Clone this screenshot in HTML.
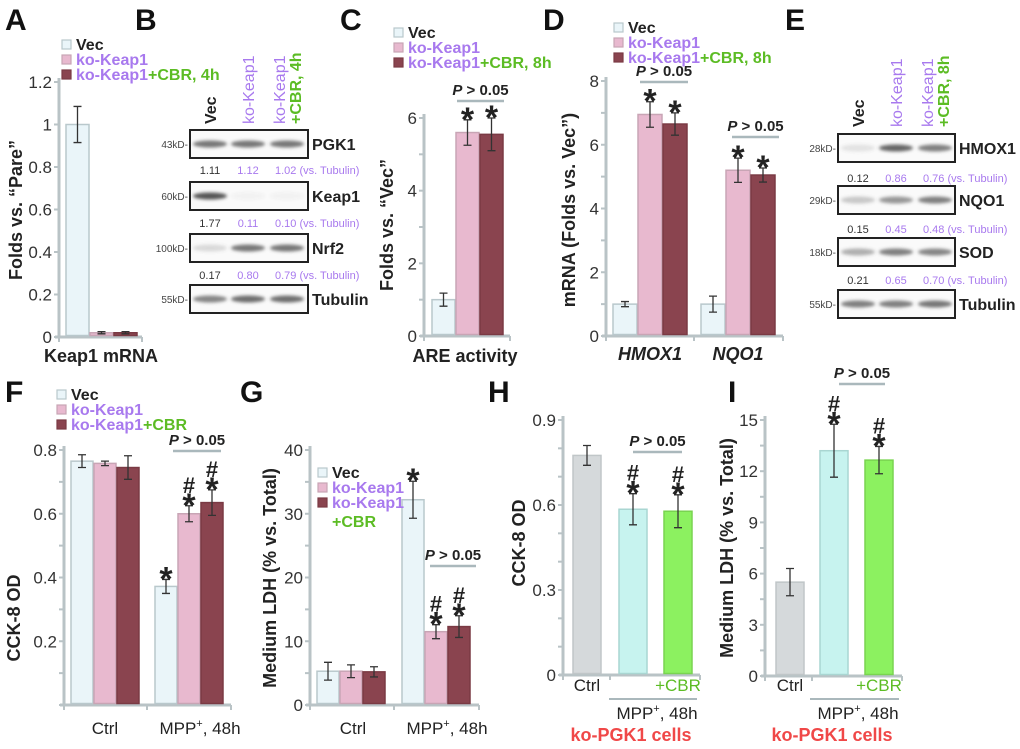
<!DOCTYPE html>
<html><head><meta charset="utf-8"><style>
html,body{margin:0;padding:0;background:#fff;}
svg{display:block;font-family:"Liberation Sans",Arial,sans-serif;}
</style></head><body>
<svg id="fig" width="1020" height="749" viewBox="0 0 1020 749" xmlns="http://www.w3.org/2000/svg">
<defs><filter id="blur" x="-20%" y="-100%" width="140%" height="300%"><feGaussianBlur stdDeviation="1.6"/></filter></defs>
</svg>
<script>
// ---------- DATA ----------
const aCats=['Keap1 mRNA'];
const aVec=[1.0];const aKo=[0.02];const aCbr=[0.02];
const aVecErr=[0.085];const aKoErr=[0.005];const aCbrErr=[0.005];
const aTicks=['0','0.2','0.4','0.6','0.8','1','1.2'];

const cCats=['ARE activity'];
const cVec=[1.0];const cKo=[5.6];const cCbr=[5.55];
const cVecErr=[0.18];const cKoErr=[0.35];const cCbrErr=[0.45];
const cTicks=['0','2','4','6'];
const cMarks=[[''],['*'],['*']];

const dCats=['HMOX1','NQO1'];
const dVec=[1.0,1.0];const dKo=[6.95,5.2];const dCbr=[6.65,5.05];
const dVecErr=[0.08,0.25];const dKoErr=[0.4,0.38];const dCbrErr=[0.35,0.22];
const dTicks=['0','2','4','6','8'];
const dMarks=[['',''],['*','*'],['*','*']];

const fCats=['Ctrl','MPP⁺, 48h'];
const fVec=[0.765,0.372];const fKo=[0.758,0.60];const fCbr=[0.745,0.635];
const fVecErr=[0.02,0.022];const fKoErr=[0.007,0.025];const fCbrErr=[0.037,0.04];
const fTicks=['0.2','0.4','0.6','0.8'];
const fMarks=[['','*'],['','#*'],['','#*']];

const gCats=['Ctrl','MPP⁺, 48h'];
const gVec=[5.3,32.2];const gKo=[5.3,11.5];const gCbr=[5.2,12.3];
const gVecErr=[1.4,2.9];const gKoErr=[1.0,1.1];const gCbrErr=[0.8,1.7];
const gTicks=['0','10','20','30','40'];
const gMarks=[['','*'],['','#*'],['','#*']];

const hCats=['Ctrl','MPP','CBR'];
const hVals=[0.775,0.585,0.578];
const hErrs=[0.035,0.055,0.058];
const hTicks=['0','0.3','0.6','0.9'];
const hMarks=['','#*','#*'];

const iCats=['Ctrl','MPP','CBR'];
const iVals=[5.5,13.2,12.65];
const iErrs=[0.8,1.55,0.8];
const iTicks=['0','3','6','9','12','15'];
const iMarks=['','#*','#*'];

// ---------- HELPERS ----------
const NS='http://www.w3.org/2000/svg';
const svg=document.getElementById('fig');
const PURPLE='#a879ee',GREEN='#5cbc24',AX='#b9c3c6',RED='#f04848';
const VEC=['#eaf5f9','#b9c8cc'],KO=['#e8b9cf','#c8a5b5'],CBR=['#8a444f','#7a3a44'];
function mk(tag,attrs,parent){const e=document.createElementNS(NS,tag);for(const k in attrs)e.setAttribute(k,attrs[k]);(parent||svg).appendChild(e);return e;}
function txt(x,y,s,size,opts){opts=opts||{};const t=mk('text',{x:x,y:y,'font-size':size,fill:opts.fill||'#222','font-weight':opts.bold?'bold':'normal','text-anchor':opts.anchor||'start'});if(opts.italic)t.setAttribute('font-style','italic');if(opts.rot)t.setAttribute('transform','rotate(-90 '+x+' '+y+')');t.textContent=s;return t;}
function scaleY(p,v){return p.y0-v/p.yMax*(p.y0-p.yTop);}

function axes(p){
  const v=mk('line',{x1:p.ax,y1:p.yTop-4,x2:p.ax,y2:p.y0,stroke:AX,'stroke-width':3});
  
  
  const h=mk('line',{x1:p.ax-4,y1:p.y0,x2:p.axEnd,y2:p.y0,stroke:AX,'stroke-width':3});
  
  
  for(let v2=0;v2<=p.yMax+1e-9;v2+=p.minor){const y=scaleY(p,v2);mk('line',{x1:p.ax-5,y1:y,x2:p.ax,y2:y,stroke:AX,'stroke-width':2});}
  (p.dividers||[]).forEach(x=>mk('line',{x1:x,y1:p.y0,x2:x,y2:p.y0+5,stroke:AX,'stroke-width':2}));
  p.ticks.forEach(s=>{const y=scaleY(p,parseFloat(s));
    const t=txt(p.ax-7,y+6,s,17,{anchor:'end',fill:'#333'});
    
    });
}
function bar(p,x,w,v,e,col,name,mark){
  const y=scaleY(p,v);
  const r=mk('rect',{x:x,y:y,width:w,height:p.y0-y-1.5,fill:col[0],stroke:col[1],'stroke-width':1.5});
  
  
  const yt=scaleY(p,v+e),yb=scaleY(p,v-e),cx=x+w/2;
  const eb=mk('path',{d:'M'+(cx-4)+' '+yt+'H'+(cx+4)+'M'+cx+' '+yt+'V'+yb+'M'+(cx-4)+' '+yb+'H'+(cx+4),stroke:'#333','stroke-width':1.3,fill:'none'});
  
  
  if(mark){let yy=yt+11;
    if(mark.indexOf('*')>=0){const s=txt(cx,yy,'*',34,{anchor:'middle',bold:true});yy-=24;}
    if(mark.indexOf('#')>=0){const s=txt(cx,yy,'#',22,{anchor:'middle',bold:true});}
  }
}
function grouped(p,vals,errs,marks){
  const cols=[VEC,KO,CBR],names=['vec','ko-keap1','ko-keap1-cbr'];
  p.cats.forEach((c,g)=>{for(let s=0;s<3;s++){bar(p,p.gx[g]+s*(p.bw+1),p.bw,vals[s][g],errs[s][g],cols[s],p.id+'-bar-'+names[s]+'-'+g,marks?marks[s][g]:'');}});
}
function pbar(x1,x2,y,label){
  const l=mk('line',{x1:x1,y1:y,x2:x2,y2:y,stroke:'#aab8bc','stroke-width':2.5});
  
  
  const t=mk('text',{x:(x1+x2)/2,y:y-6,'font-size':15,'font-weight':'bold','text-anchor':'middle',fill:'#222'});
  t.innerHTML='<tspan font-style="italic">P</tspan> &gt; 0.05';
  
  
}
function legend(x,y,dy,third){
  const cols=[VEC,KO,CBR];
  for(let i=0;i<3;i++){const r=mk('rect',{x:x,y:y+i*dy-10,width:9,height:9,fill:cols[i][0],stroke:cols[i][1],'stroke-width':1.2});
    
    }
  const t1=txt(x+14,y,'Vec',16,{bold:true});
  
  
  const t2=txt(x+14,y+dy,'ko-Keap1',16,{bold:true,fill:PURPLE});
  
  
  const t3=mk('text',{x:x+14,y:y+2*dy,'font-size':16,'font-weight':'bold',fill:PURPLE});
  t3.innerHTML='ko-Keap1<tspan fill="'+GREEN+'">'+third+'</tspan>';
  
  
}
function letter(x,y,s){const t=txt(x,y,s,30,{bold:true,fill:'#111'});}
function blot(x,y,w,h,intens,label,kd){
  const r=mk('rect',{x:x,y:y,width:w,height:h,fill:'#fafafa',stroke:'#222','stroke-width':2});
  
  
  const cx=[x+20,x+58,x+97];
  intens.forEach((a,i)=>{const e=mk('ellipse',{cx:cx[i],cy:y+h/2,rx:17,ry:3.5,fill:'#555','fill-opacity':a,filter:'url(#blur)'});
    
    });
  const t=txt(x+w+4,y+h/2+6,label,16,{bold:true});
  
  
  const k=txt(x-2,y+h/2+4,kd+'-',10,{anchor:'end',fill:'#444'});
  
  
}
function quant(x,y,vals){
  const xs=[x+20,x+58,x+97];
  vals.forEach((v,i)=>{const t=txt(xs[i],y,v+(i==2?' (vs. Tubulin)':''),11,{anchor:i==2?'start':'middle',fill:i==0?'#333':PURPLE});
    if(i==2)t.setAttribute('x',xs[i]-12);
    
    });
}
function laneHeads(x,yb,third){
  const xs=[x+26,x+64,x+98];
  const a=txt(xs[0],yb,'Vec',16,{rot:true,bold:true});
  const b=txt(xs[1],yb,'ko-Keap1',16,{rot:true,fill:PURPLE});
  const c=txt(xs[2]-3,yb,'ko-Keap1',16,{rot:true,fill:PURPLE});
  const d=txt(xs[2]+13,yb,third,16,{rot:true,bold:true,fill:GREEN});
}

// ---------- PANEL A ----------
letter(5,30,'A');legend(62,50,15,'+CBR, 4h');
const pA={id:'a',cats:aCats,ax:59,axEnd:142,y0:337,yTop:82,yMax:1.2,minor:0.2,ticks:aTicks,gx:[66],bw:23,dividers:[59,142]};
axes(pA);grouped(pA,[aVec,aKo,aCbr],[aVecErr,aKoErr,aCbrErr],null);
txt(101,362,aCats[0],18,{bold:true,anchor:'middle'});
txt(22,210,'Folds vs. “Pare”',18,{bold:true,rot:true,anchor:'middle'});

// ---------- PANEL B ----------
letter(135,30,'B');laneHeads(190,124,'+CBR, 4h');
blot(190,130,118,28,[0.8,0.8,0.8],'PGK1','43kD');quant(190,174,['1.11','1.12','1.02']);
blot(190,182,118,28,[1.0,0.05,0.05],'Keap1','60kD');quant(190,227,['1.77','0.11','0.10']);
blot(190,234,118,28,[0.2,0.8,0.8],'Nrf2','100kD');quant(190,279,['0.17','0.80','0.79']);
blot(190,285,118,28,[0.7,0.85,0.85],'Tubulin','55kD');

// ---------- PANEL C ----------
letter(340,30,'C');legend(394,38,15,'+CBR, 8h');
const pC={id:'c',cats:cCats,ax:424,axEnd:510,y0:336,yTop:118,yMax:6,minor:1,ticks:cTicks,gx:[432],bw:23,dividers:[424,510]};
axes(pC);grouped(pC,[cVec,cKo,cCbr],[cVecErr,cKoErr,cCbrErr],cMarks);
pbar(457,504,101);
txt(465,362,cCats[0],18,{bold:true,anchor:'middle'});
txt(393,225,'Folds vs. “Vec”',18,{bold:true,rot:true,anchor:'middle'});

// ---------- PANEL D ----------
letter(543,30,'D');legend(614,33,15,'+CBR, 8h');
const pD={id:'d',cats:dCats,ax:606,axEnd:783,y0:336,yTop:81,yMax:8,minor:1,ticks:dTicks,gx:[613,701],bw:24,dividers:[606,694,783]};
axes(pD);grouped(pD,[dVec,dKo,dCbr],[dVecErr,dKoErr,dCbrErr],dMarks);
pbar(640,688,82);pbar(732,779,137);
dCats.forEach((c,i)=>{const t=txt(pD.gx[i]+37,360,c,18,{bold:true,italic:true,anchor:'middle'});});
txt(575,210,'mRNA (Folds vs. Vec”)',18,{bold:true,rot:true,anchor:'middle'});

// ---------- PANEL E ----------
letter(785,30,'E');laneHeads(838,127,'+CBR, 8h');
blot(838,134,117,28,[0.15,0.9,0.75],'HMOX1','28kD');quant(838,182,['0.12','0.86','0.76']);
blot(838,186,117,28,[0.3,0.6,0.75],'NQO1','29kD');quant(838,233,['0.15','0.45','0.48']);
blot(838,238,117,28,[0.45,0.75,0.7],'SOD','18kD');quant(838,284,['0.21','0.65','0.70']);
blot(838,290,117,28,[0.75,0.75,0.8],'Tubulin','55kD');

// ---------- PANEL F ----------
letter(5,402,'F');legend(57,400,15,'+CBR');
const pF={id:'f',cats:fCats,ax:64,axEnd:231,y0:705,yTop:450,yMax:0.8,minor:0.1,ticks:fTicks,gx:[71,155],bw:22,dividers:[64,147,231]};
axes(pF);grouped(pF,[fVec,fKo,fCbr],[fVecErr,fKoErr,fCbrErr],fMarks);
pbar(173,221,451);
txt(105,734,'Ctrl',17,{anchor:'middle'});
const fm=mk('text',{x:200,y:734,'font-size':17,'text-anchor':'middle',fill:'#222'});fm.innerHTML='MPP<tspan dy="-7" font-size="11">+</tspan><tspan dy="7">, 48h</tspan>';
txt(20,618,'CCK-8 OD',18,{bold:true,rot:true,anchor:'middle'});

// ---------- PANEL G ----------
letter(240,402,'G');
const pG={id:'g',cats:gCats,ax:310,axEnd:479,y0:705,yTop:450,yMax:40,minor:5,ticks:gTicks,gx:[317,402],bw:22,dividers:[310,394,479]};
axes(pG);grouped(pG,[gVec,gKo,gCbr],[gVecErr,gKoErr,gCbrErr],gMarks);
legend(318,478,15,'');
const gc=txt(332,527,'+CBR',16,{bold:true,fill:GREEN});
pbar(430,476,566);
txt(353,734,'Ctrl',17,{anchor:'middle'});
const gm=mk('text',{x:447,y:734,'font-size':17,'text-anchor':'middle',fill:'#222'});gm.innerHTML='MPP<tspan dy="-7" font-size="11">+</tspan><tspan dy="7">, 48h</tspan>';
txt(276,578,'Medium LDH (% vs. Total)',18,{bold:true,rot:true,anchor:'middle'});

// ---------- PANELS H & I ----------
function single(p,vals,errs,marks){
  const cols=[['#d5d9db','#c0c6c8'],['#c7f3ef','#a9d6d2'],['#8cf160','#79d450']];
  p.cats.forEach((c,i)=>bar(p,p.gx[i],p.bw,vals[i],errs[i],cols[i],p.id+'-bar-'+c.toLowerCase(),marks[i]));
  const c1=txt(p.gx[0]+p.bw/2,691,'Ctrl',17,{anchor:'middle'});
  const c2=txt(p.gx[2]+p.bw/2,691,'+CBR',17,{anchor:'middle',fill:GREEN});
  const ln=mk('line',{x1:p.gx[1]-10,y1:699,x2:p.axEnd-3,y2:699,stroke:'#aab8bc','stroke-width':2});
  const m=mk('text',{x:p.gx[1]+38,y:719,'font-size':17,'text-anchor':'middle',fill:'#222'});m.innerHTML='MPP<tspan dy="-7" font-size="11">+</tspan><tspan dy="7">, 48h</tspan>';
  const k=txt(p.gx[1]+12,741,'ko-PGK1 cells',18,{anchor:'middle',bold:true,fill:RED});
}
letter(488,402,'H');
const pH={id:'h',cats:hCats,ax:563,axEnd:700,y0:675,yTop:420,yMax:0.9,minor:0.1,ticks:hTicks,gx:[573,619,664],bw:28,dividers:[563,610,700]};
axes(pH);single(pH,hVals,hErrs,hMarks);
pbar(633,682,452);
txt(525,543,'CCK-8 OD',18,{bold:true,rot:true,anchor:'middle'});

letter(728,402,'I');
const pI={id:'i',cats:iCats,ax:765,axEnd:902,y0:676,yTop:420,yMax:15,minor:1.5,ticks:iTicks,gx:[776,820,865],bw:28,dividers:[765,812,902]};
axes(pI);single(pI,iVals,iErrs,iMarks);
pbar(839,885,384);
txt(733,548,'Medium LDH (% vs. Total)',18,{bold:true,rot:true,anchor:'middle'});
</script>
</body></html>
